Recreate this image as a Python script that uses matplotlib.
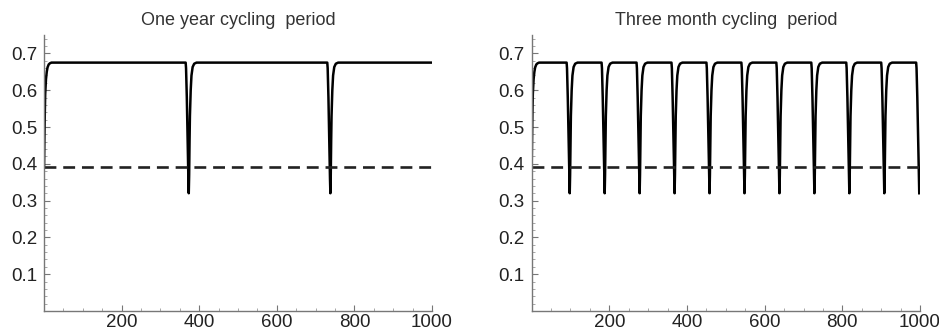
import numpy as np
import matplotlib
matplotlib.use("Agg")
import matplotlib.pyplot as plt
from matplotlib.ticker import MultipleLocator

plt.rcParams['font.family'] = ['Liberation Sans', 'DejaVu Sans']

# values
level = 0.39                 # dashed reference level
plateau = 0.675

# start-up rise, days from 0
rise_days = [0, 1, 2, 3, 5, 7, 9, 12, 15, 19]
rise_vals = [0.39, 0.47, 0.54, 0.59, 0.63, 0.65, 0.662, 0.670, 0.673, 0.675]

# shape of one dip, days after a cycle boundary
dip_days = [0, 1, 3, 5, 7, 8, 9, 10, 11, 13, 15, 18, 22, 28]
dip_vals = [0.675, 0.66, 0.58, 0.47, 0.36, 0.32, 0.37, 0.46, 0.53, 0.60, 0.64, 0.663, 0.672, 0.675]

boundaries_year = [365, 730]
boundaries_quarter = [90, 180, 270, 360, 450, 540, 630, 720, 810, 900, 990]
end_year = 1000
end_quarter = 998

titles = ["One year cycling  period", "Three month cycling  period"]


def build(bounds, end):
    xs = list(rise_days)
    ys = list(rise_vals)
    for b in bounds:
        xs.append(b)
        ys.append(plateau)
        for d, v in zip(dip_days, dip_vals):
            if b + d <= end:
                xs.append(b + d)
                ys.append(v)
    if xs[-1] < end:
        xs.append(end)
        ys.append(plateau)
    return np.array(xs), np.array(ys)


fig = plt.figure(figsize=(9.39, 3.36), dpi=100)
axes = [fig.add_axes([0.0469, 0.0744, 0.4132, 0.8214]),
        fig.add_axes([0.5662, 0.0744, 0.4136, 0.8214])]

for ax, bounds, end, title in zip(axes, [boundaries_year, boundaries_quarter],
                                  [end_year, end_quarter], titles):
    x, y = build(bounds, end)
    ax.plot(x, y, color='black', lw=1.8, solid_joinstyle='round')
    ax.plot([0, 1000], [level, level], color='#222222', lw=1.9, dashes=(4.5, 2.6))
    ax.set_xlim(0, 1000)
    ax.set_ylim(0, 0.75)
    for s in ['top', 'right']:
        ax.spines[s].set_visible(False)
    for s in ['left', 'bottom']:
        ax.spines[s].set_color('#777777')
        ax.spines[s].set_linewidth(1.0)
    ax.set_xticks([200, 400, 600, 800, 1000])
    ax.set_yticks([0.1, 0.2, 0.3, 0.4, 0.5, 0.6, 0.7])
    ax.set_yticklabels(['0.1', '0.2', '0.3', '0.4', '0.5', '0.6', '0.7'])
    ax.xaxis.set_minor_locator(MultipleLocator(50))
    ax.yaxis.set_minor_locator(MultipleLocator(0.02))
    ax.tick_params(which='major', direction='in', length=4, width=0.8,
                   color='#777777', labelsize=13.5, labelcolor='#222222')
    ax.tick_params(which='minor', direction='in', length=2, width=0.6, color='#999999')
    ax.tick_params(axis='x', pad=2)
    ax.tick_params(axis='y', pad=5)
    ax.set_title(title, fontsize=13, color='#333333', pad=7)

fig.savefig('out.png', dpi=100)
